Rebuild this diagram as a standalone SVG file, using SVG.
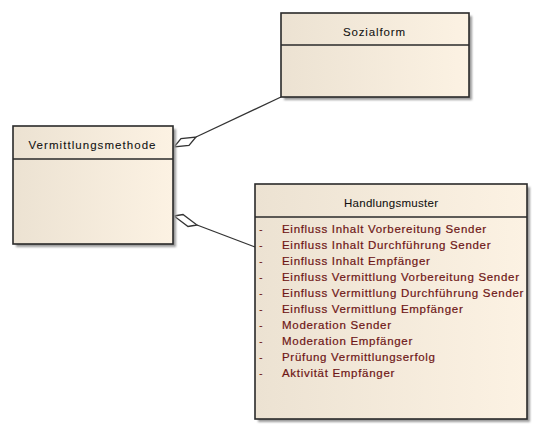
<svg xmlns="http://www.w3.org/2000/svg" width="540" height="431" viewBox="0 0 540 431">
<defs>
<linearGradient id="fill" x1="0" y1="0" x2="1" y2="0">
<stop offset="0" stop-color="#ece2d2"/>
<stop offset="1" stop-color="#fcf2e3"/>
</linearGradient>
<filter id="blur" x="-10%" y="-10%" width="120%" height="120%"><feGaussianBlur stdDeviation="1"/></filter>
</defs>
<style>
.shadow{fill:#9a9a9a;filter:url(#blur)}
.box{fill:url(#fill);stroke:#2a2a2a;stroke-width:1.6}
.div{stroke:#2a2a2a;stroke-width:1.4}
.title{font-family:"Liberation Sans",Arial,sans-serif;font-size:11.5px;fill:#111;stroke:#111;stroke-width:0.08;text-anchor:middle}
.item{font-family:"Liberation Sans",Arial,sans-serif;font-size:11.5px;fill:#6e1616;stroke:#6e1616;stroke-width:0.2;letter-spacing:0.7px}
.bul{font-family:"Liberation Sans",Arial,sans-serif;font-size:11px;fill:#6e1616}
.conn{fill:none;stroke:#333;stroke-width:1.3}
.dia{fill:#fff;stroke:#333;stroke-width:1.3}
</style>
<rect width="540" height="431" fill="#fff"/>
<g id="connectors">
<line class="conn" x1="196" y1="137" x2="281" y2="97"/>
<polygon class="dia" points="174,147 181,138.5 196,137 189,145.5"/>
<line class="conn" x1="197" y1="225" x2="255" y2="247"/>
<polygon class="dia" points="174,216 183,214.5 197,225 188,226.5"/>
</g>
<g id="Sozialform">
<rect class="shadow" x="284" y="16" width="188" height="84"/>
<rect class="box" x="281" y="13" width="188" height="84"/>
<line class="div" x1="281" y1="45" x2="469" y2="45"/>
<text class="title" x="374" y="36" textLength="62" lengthAdjust="spacing">Sozialform</text>
</g>
<g id="Vermittlungsmethode">
<rect class="shadow" x="16" y="129" width="160" height="118"/>
<rect class="box" x="13" y="126" width="160" height="118"/>
<line class="div" x1="13" y1="159" x2="173" y2="159"/>
<text class="title" x="92" y="149" textLength="127" lengthAdjust="spacing">Vermittlungsmethode</text>
</g>
<g id="Handlungsmuster">
<rect class="shadow" x="258" y="187" width="272" height="235"/>
<rect class="box" x="255" y="184" width="272" height="235"/>
<line class="div" x1="255" y1="217" x2="527" y2="217"/>
<text class="title" x="391" y="207" textLength="94" lengthAdjust="spacing">Handlungsmuster</text>
<g class="bul">
<text x="259" y="233">-</text>
<text x="259" y="249">-</text>
<text x="259" y="265">-</text>
<text x="259" y="281">-</text>
<text x="259" y="297">-</text>
<text x="259" y="313">-</text>
<text x="259" y="329">-</text>
<text x="259" y="345">-</text>
<text x="259" y="361">-</text>
<text x="259" y="377">-</text>
</g>
<text class="item" x="282" y="233">Einfluss Inhalt Vorbereitung Sender</text>
<text class="item" x="282" y="249">Einfluss Inhalt Durchführung Sender</text>
<text class="item" x="282" y="265">Einfluss Inhalt Empfänger</text>
<text class="item" x="282" y="281">Einfluss Vermittlung Vorbereitung Sender</text>
<text class="item" x="282" y="297">Einfluss Vermittlung Durchführung Sender</text>
<text class="item" x="282" y="313">Einfluss Vermittlung Empfänger</text>
<text class="item" x="282" y="329">Moderation Sender</text>
<text class="item" x="282" y="345">Moderation Empfänger</text>
<text class="item" x="282" y="361">Prüfung Vermittlungserfolg</text>
<text class="item" x="282" y="377">Aktivität Empfänger</text>
</g>
</svg>
